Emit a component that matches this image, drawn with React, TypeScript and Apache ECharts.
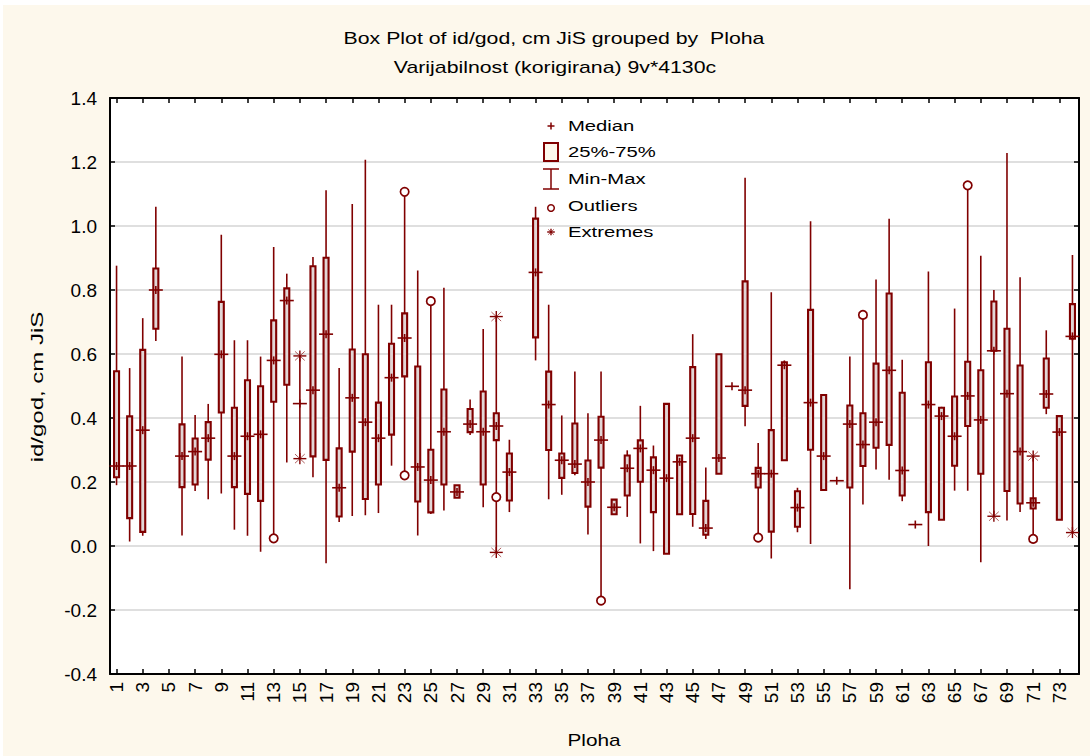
import { useEffect, useRef } from "react";
import * as echarts from "echarts";

const plots = [
  "1","2","3","4","5","6","7","8","9","10","11","12","13","14","15","16","17","18","19","20",
  "21","22","23","24","25","26","27","28","29","30","31","32","33","34","35","36","37","38","39","40",
  "41","42","43","44","45","46","47","48","49","50","51","52","53","54","55","56","57","58","59","60",
  "61","62","63","64","65","66","67","68","69","70","71","72","73","74",
];

const minVals = [
  0.19, 0.014, 0.032, 0.641, null, 0.033, 0.172, 0.146, 0.164, 0.051,
  0.032, -0.018, 0.024, 0.261, 0.273, 0.215, -0.054, 0.075, 0.094, 0.096,
  0.103, 0.251, 0.221, 0.033, 0.1, 0.111, 0.151, 0.347, 0.121, -0.02,
  0.106, null, 0.58, 0.146, 0.16, 0.221, 0.036, -0.171, 0.099, 0.091,
  0.008, -0.016, -0.024, 0.099, 0.06, 0.022, 0.226, 0.499, 0.374, 0.026,
  -0.039, 0.268, 0.043, 0.006, 0.175, 0.204, -0.135, 0.13, 0.239, 0.207,
  0.14, 0.067, 0.0, 0.082, 0.173, 0.173, -0.051, 0.093, 0.08, 0.106,
  0.022, 0.412, 0.082, 0.042,
];
const q1Vals = [
  0.215, 0.087, 0.044, 0.679, null, 0.184, 0.192, 0.27, 0.417, 0.184,
  0.163, 0.141, 0.451, 0.504, 0.445, 0.28, 0.269, 0.092, 0.295, 0.147,
  0.192, 0.348, 0.53, 0.139, 0.105, 0.192, 0.151, 0.356, 0.192, 0.331,
  0.142, null, 0.652, 0.3, 0.213, 0.228, 0.123, 0.245, 0.099, 0.158,
  0.201, 0.106, -0.024, 0.099, 0.1, 0.035, 0.226, 0.499, 0.438, 0.183,
  0.045, 0.268, 0.06, 0.301, 0.175, 0.204, 0.183, 0.25, 0.307, 0.316,
  0.158, 0.067, 0.106, 0.082, 0.251, 0.375, 0.226, 0.61, 0.172, 0.133,
  0.117, 0.432, 0.082, 0.648,
];
const medianVals = [
  0.25, 0.25, 0.362, 0.8, null, 0.281, 0.295, 0.337, 0.599, 0.281,
  0.343, 0.349, 0.58, 0.767, 0.445, 0.487, 0.662, 0.182, 0.463, 0.387,
  0.337, 0.526, 0.65, 0.247, 0.206, 0.357, 0.169, 0.381, 0.357, 0.375,
  0.231, null, 0.855, 0.442, 0.268, 0.256, 0.2, 0.331, 0.121, 0.243,
  0.305, 0.237, 0.212, 0.263, 0.337, 0.056, 0.275, 0.499, 0.487, 0.226,
  0.226, 0.565, 0.12, 0.448, 0.281, 0.204, 0.381, 0.317, 0.387, 0.549,
  0.236, 0.067, 0.442, 0.406, 0.343, 0.469, 0.394, 0.61, 0.476, 0.295,
  0.135, 0.475, 0.356, 0.655,
];
const q3Vals = [
  0.546, 0.405, 0.613, 0.867, null, 0.38, 0.336, 0.387, 0.763, 0.432,
  0.518, 0.499, 0.705, 0.805, 0.445, 0.874, 0.901, 0.305, 0.614, 0.599,
  0.448, 0.632, 0.727, 0.561, 0.301, 0.489, 0.19, 0.428, 0.483, 0.415,
  0.289, null, 1.023, 0.545, 0.289, 0.383, 0.267, 0.404, 0.145, 0.283,
  0.33, 0.277, 0.444, 0.283, 0.559, 0.141, 0.599, 0.499, 0.827, 0.244,
  0.362, 0.574, 0.171, 0.738, 0.472, 0.204, 0.439, 0.415, 0.57, 0.789,
  0.479, 0.067, 0.574, 0.432, 0.467, 0.576, 0.549, 0.764, 0.679, 0.564,
  0.149, 0.586, 0.406, 0.756,
];
const maxVals = [
  0.876, 0.556, 0.712, 1.06, null, 0.592, 0.409, 0.444, 0.973, 0.643,
  0.643, 0.592, 0.934, 0.851, 0.594, 0.903, 1.112, 0.556, 1.069, 1.207,
  0.754, 0.754, 1.107, 0.861, 0.765, 0.807, 0.19, 0.458, 0.678, 0.717,
  0.332, null, 1.06, 0.754, 0.408, 0.545, 0.415, 0.545, 0.145, 0.299,
  0.438, 0.314, 0.444, 0.283, 0.662, 0.245, 0.599, 0.499, 1.151, 0.322,
  0.793, 0.58, 0.182, 1.015, 0.472, 0.204, 0.592, 0.722, 0.833, 1.023,
  0.582, 0.067, 0.858, 0.435, 0.742, 1.127, 0.907, 0.8, 1.228, 0.84,
  0.281, 0.674, 0.406, 0.909,
];

// [Ploha, value]
const outlierPoints = [
  ["13", 0.024], ["23", 1.107], ["23", 0.221], ["25", 0.765], ["30", 0.153],
  ["38", -0.171], ["50", 0.026], ["58", 0.722], ["66", 1.127], ["71", 0.022],
];
const extremePoints = [
  ["15", 0.594], ["15", 0.273], ["30", 0.717], ["30", -0.02],
  ["68", 0.093], ["71", 0.281], ["74", 0.042],
];

const yTicks = { min: -0.4, max: 1.4, step: 0.2 };

const RED = "#800000";
const BOX_FILL = "#e2d6d6";
const CREAM = "#fdf8ec";
const FONT = "Liberation Sans, Arial, sans-serif";

function renderBox(_params: any, api: any) {
  const i = api.value(0);
  const mn = api.value(1);
  const q1 = api.value(2);
  const md = api.value(3);
  const q3 = api.value(4);
  const mx = api.value(5);
  const pMin = api.coord([i, mn]);
  const pMax = api.coord([i, mx]);
  const pQ1 = api.coord([i, q1]);
  const pQ3 = api.coord([i, q3]);
  const pMd = api.coord([i, md]);
  const cx = pMd[0];
  const children: any[] = [];
  if (mx > mn) {
    children.push({
      type: "line",
      shape: { x1: cx, y1: pMax[1], x2: cx, y2: pMin[1] },
      style: { stroke: RED, lineWidth: 1.6 },
    });
  }
  if (q3 > q1) {
    children.push({
      type: "rect",
      shape: { x: cx - 2.5, y: pQ3[1], width: 5, height: pQ1[1] - pQ3[1] },
      style: { fill: BOX_FILL, stroke: RED, lineWidth: 2.1 },
    });
  }
  children.push({
    type: "line",
    shape: { x1: cx - 7, y1: pMd[1], x2: cx + 7, y2: pMd[1] },
    style: { stroke: RED, lineWidth: 1.6 },
  });
  children.push({
    type: "line",
    shape: { x1: cx, y1: pMd[1] - 4, x2: cx, y2: pMd[1] + 4 },
    style: { stroke: RED, lineWidth: 1.6 },
  });
  return { type: "group", children };
}

function renderOutlier(_params: any, api: any) {
  const p = api.coord([api.value(0), api.value(1)]);
  return {
    type: "circle",
    shape: { cx: p[0], cy: p[1], r: 4.2 },
    style: { fill: "#ffffff", stroke: RED, lineWidth: 1.7 },
  };
}

function asterisk(cx: number, cy: number, s: number) {
  return [
    { type: "line", shape: { x1: cx - s, y1: cy, x2: cx + s, y2: cy }, style: { stroke: RED, lineWidth: 1.4 } },
    { type: "line", shape: { x1: cx, y1: cy - s * 0.85, x2: cx, y2: cy + s * 0.85 }, style: { stroke: RED, lineWidth: 1.4 } },
    { type: "line", shape: { x1: cx - s * 0.75, y1: cy - s * 0.7, x2: cx + s * 0.75, y2: cy + s * 0.7 }, style: { stroke: RED, lineWidth: 0.8, opacity: 0.8 } },
    { type: "line", shape: { x1: cx - s * 0.75, y1: cy + s * 0.7, x2: cx + s * 0.75, y2: cy - s * 0.7 }, style: { stroke: RED, lineWidth: 0.8, opacity: 0.8 } },
  ];
}

function renderExtreme(_params: any, api: any) {
  const p = api.coord([api.value(0), api.value(1)]);
  const children = asterisk(p[0], p[1], 6.5);
  return { type: "group", children };
}

export default function App() {
  const ref = useRef<HTMLDivElement>(null);

  useEffect(() => {
    document.body.style.margin = "0";
    const chart = echarts.init(ref.current!, null, { renderer: "svg" });

    const boxData: any[] = [];
    plots.forEach((_p, i) => {
      if (minVals[i] == null) return;
      boxData.push([i, minVals[i], q1Vals[i], medianVals[i], q3Vals[i], maxVals[i]]);
    });
    const outData = outlierPoints.map(([p, v]) => [plots.indexOf(p as string), v]);
    const extData = extremePoints.map(([p, v]) => [plots.indexOf(p as string), v]);

    const legendX = 551;
    const legendTextX = 568;
    const rows = [126, 152, 179, 206, 232];
    const legendText = (t: string, y: number) => ({
      type: "text",
      x: legendTextX,
      y,
      scaleX: 1.35,
      style: { x: 0, y: 0, text: t, fill: "#000", font: `15px ${FONT}`, textAlign: "left", textVerticalAlign: "middle" },
      z: 100,
    });

    const axisCommon = {
      axisLine: { show: true, onZero: false, lineStyle: { color: "#000", width: 2 } },
    };

    const option: any = {
      animation: false,
      backgroundColor: CREAM,
      grid: {
        left: 110,
        top: 98,
        width: 969,
        height: 576,
        show: true,
        backgroundColor: "#ffffff",
        borderWidth: 0,
      },
      xAxis: [
        {
          type: "category",
          data: plots,
          position: "bottom",
          boundaryGap: true,
          ...axisCommon,
          axisTick: { show: true, inside: true, alignWithLabel: true, interval: 1, length: 5, lineStyle: { color: "#000", width: 1.5 } },
          axisLabel: { show: true, interval: 1, rotate: 90, margin: 8, fontSize: 19, color: "#000", fontFamily: FONT },
          splitLine: { show: false },
        },
        {
          type: "category",
          data: plots,
          position: "top",
          boundaryGap: true,
          ...axisCommon,
          axisTick: { show: true, inside: true, alignWithLabel: true, interval: 1, length: 5, lineStyle: { color: "#000", width: 1.5 } },
          axisLabel: { show: false },
          splitLine: { show: false },
        },
      ],
      yAxis: [
        {
          type: "value",
          min: yTicks.min,
          max: yTicks.max,
          interval: yTicks.step,
          position: "left",
          ...axisCommon,
          axisTick: { show: true, inside: true, length: 5, lineStyle: { color: "#000", width: 1.5 } },
          axisLabel: {
            margin: 13,
            fontSize: 19,
            color: "#000",
            fontFamily: FONT,
            formatter: (v: number) => (Math.abs(v) < 1e-9 ? "0.0" : v.toFixed(1)),
          },
          splitLine: { show: true, lineStyle: { color: "#d4d4d4", width: 1.5 } },
        },
        {
          type: "value",
          min: yTicks.min,
          max: yTicks.max,
          interval: yTicks.step,
          position: "right",
          ...axisCommon,
          axisTick: { show: true, inside: true, length: 5, lineStyle: { color: "#000", width: 1.5 } },
          axisLabel: { show: false },
          splitLine: { show: false },
        },
      ],
      series: [
        {
          type: "custom",
          name: "box",
          xAxisIndex: 0,
          yAxisIndex: 0,
          renderItem: renderBox,
          encode: { x: 0, y: [1, 2, 3, 4, 5] },
          data: boxData,
          z: 10,
        },
        {
          type: "custom",
          name: "Outliers",
          xAxisIndex: 0,
          yAxisIndex: 0,
          renderItem: renderOutlier,
          encode: { x: 0, y: 1 },
          data: outData,
          z: 11,
        },
        {
          type: "custom",
          name: "Extremes",
          xAxisIndex: 0,
          yAxisIndex: 0,
          renderItem: renderExtreme,
          encode: { x: 0, y: 1 },
          data: extData,
          z: 12,
        },
      ],
      graphic: [
        { type: "rect", shape: { x: 0, y: 0, width: 1090, height: 5 }, style: { fill: "#ffffff" }, z: 0 },
        { type: "rect", shape: { x: 0, y: 0, width: 3, height: 756 }, style: { fill: "#ffffff" }, z: 0 },
        {
          type: "text",
          x: 554,
          y: 38,
          scaleX: 1.33,
          style: { x: 0, y: 0, text: "Box Plot of id/god, cm JiS grouped by  Ploha", fill: "#000", font: `16px ${FONT}`, textAlign: "center", textVerticalAlign: "middle" },
        },
        {
          type: "text",
          x: 555,
          y: 67,
          scaleX: 1.33,
          style: { x: 0, y: 0, text: "Varijabilnost (korigirana) 9v*4130c", fill: "#000", font: `16px ${FONT}`, textAlign: "center", textVerticalAlign: "middle" },
        },
        {
          type: "text",
          x: 594,
          y: 740,
          scaleX: 1.3,
          style: { x: 0, y: 0, text: "Ploha", fill: "#000", font: `16px ${FONT}`, textAlign: "center", textVerticalAlign: "middle" },
        },
        {
          type: "text",
          x: 38,
          y: 387,
          rotation: Math.PI / 2,
          scaleX: 1.5,
          style: { x: 0, y: 0, text: "id/god, cm JiS", fill: "#000", font: `16px ${FONT}`, textAlign: "center", textVerticalAlign: "middle" },
        },
        // legend
        { type: "line", shape: { x1: legendX - 3.5, y1: rows[0], x2: legendX + 3.5, y2: rows[0] }, style: { stroke: RED, lineWidth: 1.5 }, z: 100 },
        { type: "line", shape: { x1: legendX, y1: rows[0] - 3.5, x2: legendX, y2: rows[0] + 3.5 }, style: { stroke: RED, lineWidth: 1.5 }, z: 100 },
        { type: "rect", shape: { x: 544, y: 143, width: 14, height: 18 }, style: { fill: CREAM, stroke: RED, lineWidth: 2 }, z: 100 },
        { type: "line", shape: { x1: legendX, y1: 169, x2: legendX, y2: 189 }, style: { stroke: RED, lineWidth: 1.5 }, z: 100 },
        { type: "line", shape: { x1: 543, y1: 169, x2: 559, y2: 169 }, style: { stroke: RED, lineWidth: 1.5 }, z: 100 },
        { type: "line", shape: { x1: 543, y1: 189, x2: 559, y2: 189 }, style: { stroke: RED, lineWidth: 1.5 }, z: 100 },
        { type: "circle", shape: { cx: legendX, cy: 208, r: 3.3 }, style: { fill: "#ffffff", stroke: RED, lineWidth: 1.5 }, z: 100 },
        { type: "group", children: asterisk(legendX, 232, 3.8), z: 100 },
        legendText("Median", rows[0]),
        legendText("25%-75%", rows[1]),
        legendText("Min-Max", rows[2]),
        legendText("Outliers", rows[3]),
        legendText("Extremes", rows[4]),
      ],
    };

    chart.setOption(option);
    return () => chart.dispose();
  }, []);

  return <div ref={ref} style={{ width: 1090, height: 756 }} />;
}
